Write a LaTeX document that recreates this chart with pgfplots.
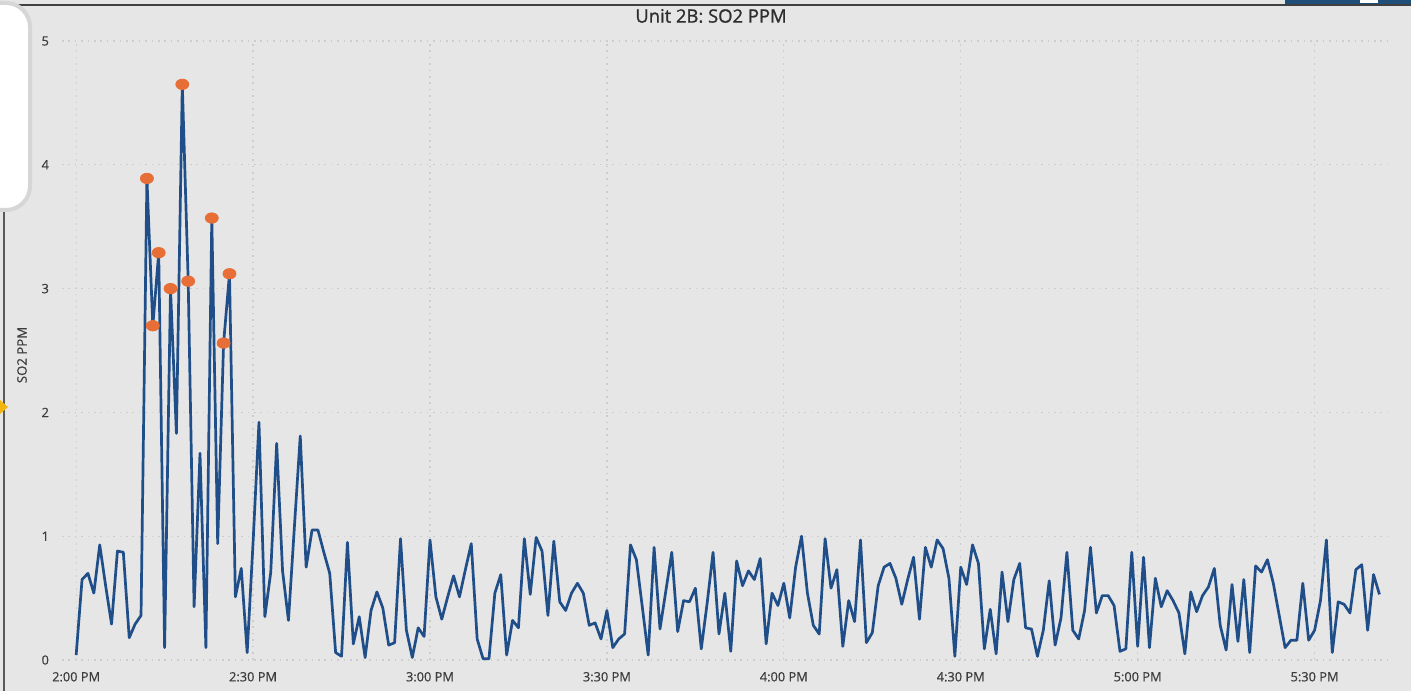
\documentclass[border=0pt]{standalone}
\usepackage{fontspec}
\setmainfont{Open Sans}
\newfontfamily\semib[FakeBold=1.2]{Open Sans}
\newfontfamily\medf[FakeBold=0.6]{Open Sans}
\usepackage{pgfplots}
\pgfplotsset{compat=1.18}
\definecolor{bg}{HTML}{E6E6E6}
\definecolor{gridc}{HTML}{CCCCCC}
\definecolor{linec}{HTML}{1F4E89}
\definecolor{markc}{HTML}{E86E37}
\definecolor{txt}{HTML}{3E3E3E}
\definecolor{ttl}{HTML}{2E2E2E}
\definecolor{barc}{HTML}{1F4E79}
\definecolor{warnc}{HTML}{F2B50F}
\pgfplotstableread{
t v
0 0.04
1 0.65
2 0.70
3 0.54
4 0.93
5 0.60
6 0.29
7 0.88
8 0.87
9 0.18
10 0.29
11 0.36
12 3.89
13 2.70
14 3.29
15 0.10
16 3.00
17 1.83
18 4.65
19 3.06
20 0.43
21 1.67
22 0.10
23 3.57
24 0.94
25 2.56
26 3.12
27 0.51
28 0.74
29 0.06
30 0.95
31 1.92
32 0.35
33 0.71
34 1.75
35 0.72
36 0.32
37 1.07
38 1.81
39 0.75
40 1.05
41 1.05
42 0.87
43 0.70
44 0.06
45 0.03
46 0.95
47 0.13
48 0.35
49 0.02
50 0.40
51 0.55
52 0.42
53 0.12
54 0.14
55 0.98
56 0.24
57 0.02
58 0.26
59 0.19
60 0.97
61 0.51
62 0.33
63 0.51
64 0.68
65 0.51
66 0.73
67 0.94
68 0.17
69 0.01
70 0.01
71 0.54
72 0.69
73 0.04
74 0.32
75 0.26
76 0.98
77 0.53
78 0.99
79 0.88
80 0.36
81 0.96
82 0.47
83 0.40
84 0.54
85 0.62
86 0.54
87 0.28
88 0.30
89 0.17
90 0.40
91 0.10
92 0.17
93 0.21
94 0.93
95 0.81
96 0.43
97 0.04
98 0.91
99 0.25
100 0.56
101 0.87
102 0.23
103 0.48
104 0.47
105 0.58
106 0.09
107 0.46
108 0.87
109 0.21
110 0.54
111 0.07
112 0.80
113 0.60
114 0.72
115 0.65
116 0.82
117 0.13
118 0.54
119 0.44
120 0.62
121 0.34
122 0.75
123 1.00
124 0.54
125 0.28
126 0.21
127 0.98
128 0.58
129 0.73
130 0.11
131 0.48
132 0.31
133 0.97
134 0.14
135 0.22
136 0.60
137 0.75
138 0.78
139 0.66
140 0.45
141 0.65
142 0.83
143 0.33
144 0.91
145 0.75
146 0.97
147 0.90
148 0.66
149 0.03
150 0.75
151 0.61
152 0.93
153 0.78
154 0.09
155 0.41
156 0.05
157 0.71
158 0.31
159 0.65
160 0.78
161 0.26
162 0.25
163 0.03
164 0.24
165 0.64
166 0.12
167 0.34
168 0.87
169 0.24
170 0.17
171 0.40
172 0.91
173 0.38
174 0.52
175 0.52
176 0.44
177 0.07
178 0.09
179 0.87
180 0.11
181 0.83
182 0.10
183 0.66
184 0.43
185 0.56
186 0.48
187 0.38
188 0.05
189 0.55
190 0.39
191 0.52
192 0.59
193 0.74
194 0.28
195 0.08
196 0.61
197 0.15
198 0.65
199 0.06
200 0.76
201 0.71
202 0.81
203 0.62
204 0.36
205 0.10
206 0.16
207 0.16
208 0.62
209 0.16
210 0.24
211 0.48
212 0.97
213 0.06
214 0.47
215 0.45
216 0.38
217 0.73
218 0.77
219 0.24
220 0.69
221 0.53
}\sotwo
\pgfplotstableread{
t v
12 3.89
13 2.70
14 3.29
16 3.00
18 4.65
19 3.06
23 3.57
25 2.56
26 3.12
}\peaks
\begin{document}
\begin{tikzpicture}[x=0.5pt,y=0.5pt]
\useasboundingbox (0,0) rectangle (1411,691);
\fill[bg] (0,0) rectangle (1411,691);
% frame / UI remnants
\draw[color=black!75, line width=0.8pt] (10,686) -- (1411,686);
\draw[color=black!65, line width=0.8pt] (4,480) -- (4,0);
\fill[barc] (1285,687) rectangle (1411,691);
\fill[white] (1360,688) rectangle (1378,691);
\fill[warnc] (0,291) -- (8,284) -- (0,277) -- cycle;
\begin{axis}[
  at={(31pt,15.5pt)}, anchor=south west,
  scale only axis, width=665.5pt, height=309.5pt,
  xmin=-2.4, xmax=223.3, ymin=0, ymax=5,
  clip=false,
  axis line style={draw=none},
  tick style={draw=none},
  xtick={0,30,60,90,120,150,180,210},
  xticklabels={2:00 PM,2:30 PM,3:00 PM,3:30 PM,4:00 PM,4:30 PM,5:00 PM,5:30 PM},
  ytick={0,1,2,3,4,5},
  yticklabels={0,1,2,3,4,5},
  grid=major,
  major grid style={color=gridc, line width=0.6pt, dash pattern=on 0.8pt off 2.4pt},
  tick label style={font=\medf\fontsize{6.4}{7}\selectfont, color=txt},
  yticklabel style={xshift=-3pt},
  xticklabel style={yshift=-2.5pt},
]
\addplot[color=linec, line width=1.35pt, line join=round, no markers] table[x=t,y=v] {\sotwo};
\addplot[only marks, mark=*, color=markc, mark size=2.6pt, mark options={xscale=1.25, draw=markc, fill=markc}] table[x=t,y=v] {\peaks};
\end{axis}
\node[font=\semib\fontsize{9.2}{10}\selectfont, color=ttl] at (711,675) {Unit 2B: SO2 PPM};
\node[font=\medf\fontsize{6.6}{7}\selectfont, color=txt, rotate=90] at (22,336) {SO2 PPM};
% overlay box at top-left
\draw[fill=white, draw=black!16, line width=2pt, rounded corners=12pt] (-40,688) rectangle (30,481);
\end{tikzpicture}
\end{document}
